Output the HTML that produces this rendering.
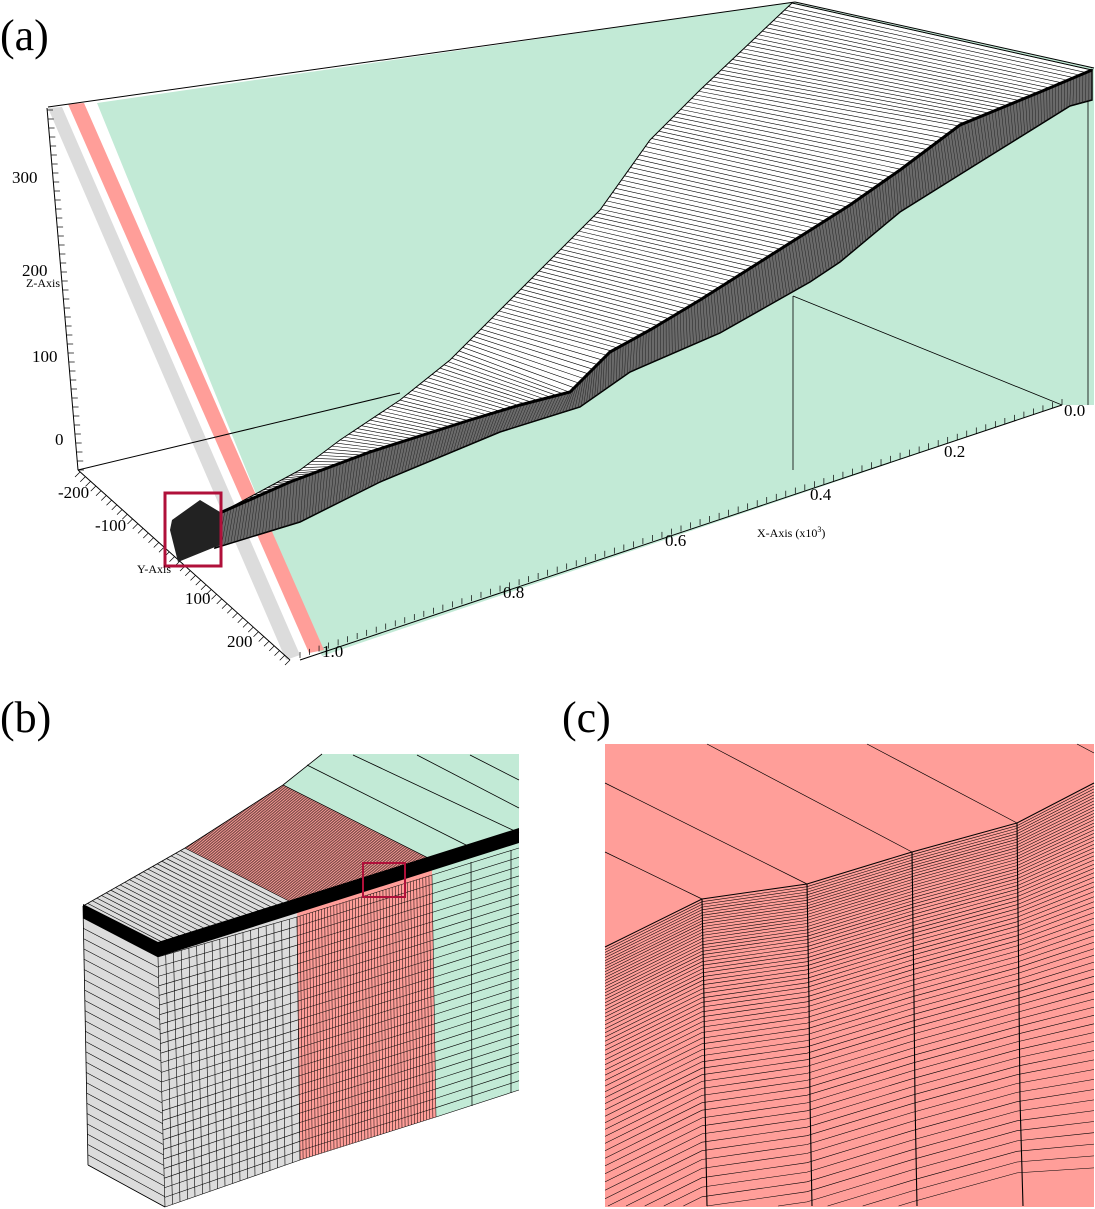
<!DOCTYPE html>
<html><head><meta charset="utf-8"><style>
html,body{margin:0;padding:0;background:#fff;width:1095px;height:1209px;overflow:hidden;}
svg{display:block;}
text{font-family:"Liberation Serif",serif;}
</style></head><body>
<svg id="s" width="1095" height="1209" viewBox="0 0 1095 1209" xmlns="http://www.w3.org/2000/svg">
<polygon points="97,103 792,2 1094,68 1094,405 1062,405 322,656" fill="#c2ead6"/>
<polygon points="48,108 62,107 300,655 286,660" fill="#dcdcdc"/>
<polygon points="68,104 84,103 324,650 309,653" fill="#ff9e99"/>
<line x1="48" y1="107" x2="795" y2="2" stroke="#000" stroke-width="1"/>
<line x1="795" y1="2" x2="1094" y2="68" stroke="#000" stroke-width="1"/>
<line x1="1088" y1="100" x2="1088" y2="405" stroke="#000" stroke-width="0.8"/>
<line x1="78" y1="470" x2="400" y2="393" stroke="#000" stroke-width="1"/>
<line x1="793" y1="470" x2="793" y2="296" stroke="#000" stroke-width="0.8"/>
<line x1="793" y1="296" x2="1062" y2="405" stroke="#000" stroke-width="0.8"/>
<line x1="47" y1="108" x2="78" y2="470" stroke="#000" stroke-width="1"/>
<line x1="78" y1="470" x2="290" y2="660" stroke="#000" stroke-width="1"/>
<line x1="300" y1="660" x2="1062" y2="405" stroke="#000" stroke-width="1"/>
<g id="ticks" stroke="#000" stroke-width="0.7"></g>
<g id="surf"></g>
<rect x="165" y="493" width="56" height="73" fill="none" stroke="#b0103a" stroke-width="3"/>
<g font-size="17" fill="#000">
<text x="0" y="50" font-size="44">(a)</text>
<text x="12" y="183">300</text>
<text x="22" y="276">200</text>
<text x="26" y="287" font-size="12">Z-Axis</text>
<text x="32" y="362">100</text>
<text x="55" y="445">0</text>
<text x="58" y="498">-200</text>
<text x="95" y="531">-100</text>
<text x="137" y="573" font-size="12">Y-Axis</text>
<text x="185" y="604">100</text>
<text x="227" y="647">200</text>
<text x="322" y="657">1.0</text>
<text x="503" y="598">0.8</text>
<text x="665" y="546">0.6</text>
<text x="810" y="500">0.4</text>
<text x="944" y="457">0.2</text>
<text x="1064" y="416">0.0</text>
<text x="757" y="537" font-size="12">X-Axis (x10<tspan font-size="8" dy="-5">3</tspan><tspan dy="5">)</tspan></text>
<text x="0" y="732" font-size="44">(b)</text>
<text x="562" y="732" font-size="44">(c)</text>
</g>
<g id="pb"></g>
<g id="pc"></g>
</svg>
<script>
(function(){
var NS="http://www.w3.org/2000/svg";
function el(p,t,a){var e=document.createElementNS(NS,t);for(var k in a)e.setAttribute(k,a[k]);p.appendChild(e);return e;}
function pl(pts){return pts.map(function(p){return p[0].toFixed(1)+","+p[1].toFixed(1)}).join(" ");}
function clipY(pts,Y){var out=[];for(var i=0;i<pts.length;i++){var p=pts[i];if(p[1]<=Y){out.push(p);}else{if(i>0&&pts[i-1][1]<Y){var q=pts[i-1],f=(Y-q[1])/(p[1]-q[1]);out.push([q[0]+f*(p[0]-q[0]),Y]);}if(i<pts.length-1&&pts[i+1][1]<Y){var q=pts[i+1],f=(Y-p[1])/(q[1]-p[1]);out.push([p[0]+f*(q[0]-p[0]),Y]);}}}return out;}
function resample(poly,n){var L=[0];for(var i=1;i<poly.length;i++){L.push(L[i-1]+Math.hypot(poly[i][0]-poly[i-1][0],poly[i][1]-poly[i-1][1]));}
var out=[],T=L[L.length-1];for(var j=0;j<=n;j++){var d=T*j/n,k=1;while(k<L.length-1&&L[k]<d)k++;var f=(d-L[k-1])/((L[k]-L[k-1])||1);out.push([poly[k-1][0]+f*(poly[k][0]-poly[k-1][0]),poly[k-1][1]+f*(poly[k][1]-poly[k-1][1])]);}return out;}
var tk=document.getElementById("ticks");
function tickLine(a,b,n,dx,dy){for(var i=0;i<=n;i++){var x=a[0]+(b[0]-a[0])*i/n,y=a[1]+(b[1]-a[1])*i/n;el(tk,"line",{x1:x,y1:y,x2:x+dx,y2:y+dy});}}
tickLine([47,110],[78,470],40,6,0);
tickLine([80,472],[290,660],40,-5,5);
tickLine([300,658],[1062,405],80,0,-6);
var s=document.getElementById("surf");
var L=[[792,3],[700,90],[650,140],[600,210],[560,250],[500,310],[450,360],[400,400],[340,440],[300,470],[222,512]];
var R=[[1092,70],[1040,92],[960,125],[900,170],[850,205],[760,262],[700,300],[650,330],[610,352],[570,392],[520,405],[470,420],[370,452],[290,482],[222,512]];
var B=[[1092,100],[1070,106],[980,162],[900,212],[840,262],[810,282],[720,333],[630,372],[580,407],[500,432],[380,482],[300,522],[215,548]];
el(s,"polygon",{points:pl(L.concat(R.slice().reverse())),fill:"#fff",stroke:"#000","stroke-width":1});
el(s,"polygon",{points:pl(R.concat(B.slice().reverse())),fill:"#6a6a6a",stroke:"#000","stroke-width":1.5});
var a=resample(L,150),b=resample(R,150),c=resample(B,300),r2=resample(R,300);
for(var i=0;i<150;i++){el(s,"line",{x1:a[i][0],y1:a[i][1],x2:b[i][0],y2:b[i][1],stroke:"#000","stroke-width":0.6});}
for(var i=0;i<300;i++){el(s,"line",{x1:r2[i][0],y1:r2[i][1],x2:c[i][0],y2:c[i][1],stroke:"#222","stroke-width":0.5});}
el(s,"polyline",{points:pl(R),fill:"none",stroke:"#000","stroke-width":3});
el(s,"polygon",{points:"172,520 200,500 220,512 220,545 178,562 170,530",fill:"#222"});
// panel b
var g=document.getElementById("pb");
function poly(p,f){el(g,"polygon",{points:pl(p),fill:f});}
poly([[322,754],[519,754],[519,830],[432,860],[283,785]],"#c2ead6");
poly([[83,906],[185,848],[297,905],[158,945]],"#dcdcdc");
poly([[185,848],[283,785],[432,860],[297,905]],"#ff9e99");
poly([[83,906],[158,945],[165,1207],[88,1165]],"#dcdcdc");
poly([[158,945],[297,905],[300,1160],[165,1207]],"#dcdcdc");
poly([[297,905],[432,863],[436,1117],[300,1160]],"#ff9e99");
poly([[432,863],[519,836],[519,1090],[436,1117]],"#c2ead6");
function ln(x1,y1,x2,y2,w){el(g,"line",{x1:x1,y1:y1,x2:x2,y2:y2,stroke:"#000","stroke-width":w||0.6});}
for(var i=0;i<=22;i++){var t=i/22;ln(83+102*t,906-58*t,158+139*t,945-40*t,0.6);}
for(var i=0;i<=70;i++){var t=i/70;ln(185+98*t,848-63*t,297+135*t,905-45*t,0.5);}
ln(283,785,432,860,0.7);ln(307,765,470,847,0.8);ln(353,755,519,833,0.8);ln(417,755,519,808,0.8);ln(470,755,519,780,0.8);
ln(283,785,322,754,0.8);
for(var i=0;i<=24;i++){var t=i/24;ln(83+5*t,918+247*t,158+7*t,957+250*t,0.6);}
function grid(p0,p1,p2,p3,nu,nv,w){for(var i=0;i<=nv;i++){var t=i/nv;ln(p0[0]+(p3[0]-p0[0])*t,p0[1]+(p3[1]-p0[1])*t,p1[0]+(p2[0]-p1[0])*t,p1[1]+(p2[1]-p1[1])*t,w);}
for(var j=0;j<=nu;j++){var u=j/nu;ln(p0[0]+(p1[0]-p0[0])*u,p0[1]+(p1[1]-p0[1])*u,p3[0]+(p2[0]-p3[0])*u,p3[1]+(p2[1]-p3[1])*u,w);}}
grid([158,957],[297,917],[300,1160],[165,1207],18,26,0.6);
grid([297,917],[432,875],[436,1117],[300,1160],44,26,0.5);
grid([432,875],[519,848],[519,1090],[436,1117],0,26,0.6);
ln(471,862,472,1106,0.7);ln(511,850,511,1093,0.7);
el(g,"polygon",{points:pl([[83,904],[158,942],[519,828],[519,843],[158,957],[83,918]]),fill:"#000"});
el(g,"line",{x1:83,y1:906,x2:185,y2:848,stroke:"#000","stroke-width":0.8});
el(g,"line",{x1:185,y1:848,x2:283,y2:785,stroke:"#000","stroke-width":0.8});
el(g,"line",{x1:83,y1:906,x2:88,y2:1165,stroke:"#000","stroke-width":0.8});
el(g,"line",{x1:88,y1:1165,x2:165,y2:1207,stroke:"#000","stroke-width":0.8});
el(g,"rect",{x:363,y:863,width:42,height:34,fill:"none",stroke:"#b0103a","stroke-width":2});
// panel c
var h=document.getElementById("pc");
el(h,"rect",{x:605,y:744,width:489,height:463,fill:"#ff9e99"});
var hg=el(h,"g",{});
function cl(x1,y1,x2,y2,w){el(hg,"line",{x1:x1,y1:y1,x2:x2,y2:y2,stroke:"#000","stroke-width":w||0.6});}
var tp=[[605,947],[702,899],[807,884],[912,852],[1017,823],[1094,783]];
cl(605,783,807,884,0.7);cl(605,852,702,899,0.7);cl(707,744,912,852,0.7);cl(867,744,1017,823,0.7);cl(1077,744,1094,753,0.7);
var d=0;
for(var i=0;i<=64;i++){
 var pts=tp.map(function(p,k){var f=(k==5?1.1:1);return [p[0],p[1]+d*f];});
 pts=clipY(pts,1206);
 if(pts.length>1)el(hg,"polyline",{points:pl(pts),fill:"none",stroke:"#000","stroke-width":i==0?1:0.55});
 d+=2.7+Math.pow(i/64,2)*8.5;
}
var cols=[[702,899,707],[807,884,812],[912,852,917],[1017,823,1023]];
cols.forEach(function(c){el(hg,"polyline",{points:pl([[c[0],c[1]],[c[0]+2,1000],[c[0]+3,1100],[c[2],1206]]),fill:"none",stroke:"#000","stroke-width":1.1});});
})();
</script>
</body></html>
